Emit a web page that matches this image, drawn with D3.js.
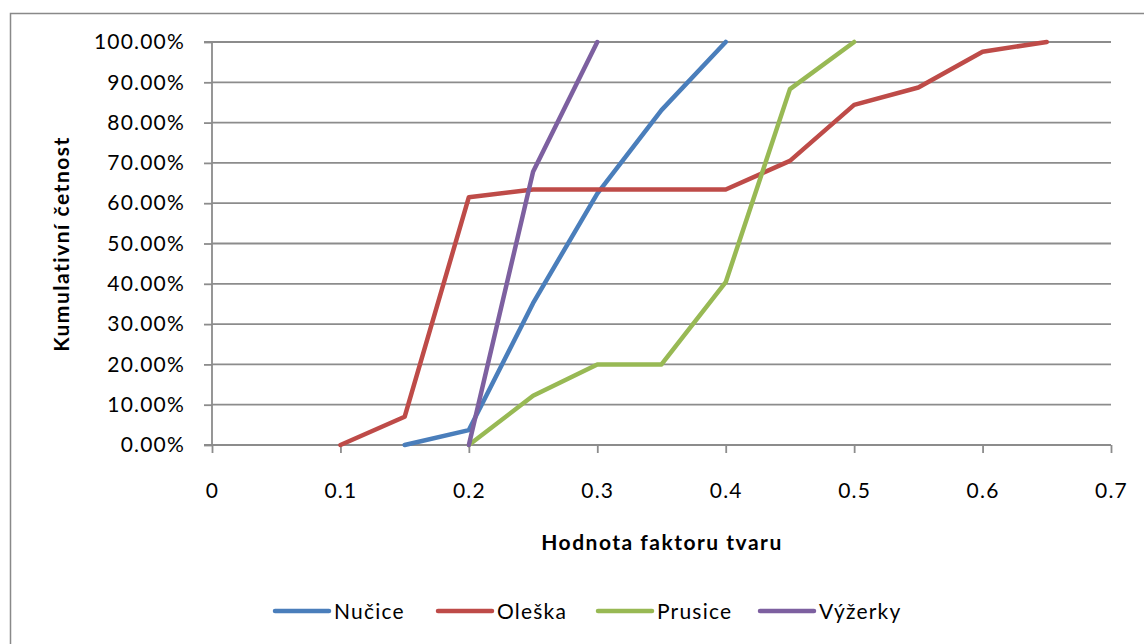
<!DOCTYPE html>
<html><head><meta charset="utf-8">
<script src="https://cdn.jsdelivr.net/npm/d3@7"></script>
<style>body{margin:0;background:#fff;} svg{display:block;font-family:Lato, "Open Sans", sans-serif;}</style>
</head><body>
<svg id="c" width="1144" height="644"></svg>
<script>
const seriesNames = ["Nučice","Oleška","Prusice","Výžerky"];
const seriesColors = ["#4A7EBB","#BE4B48","#98B954","#7D60A0"];
const nucX = [0.15,0.2,0.25,0.3,0.35,0.4];
const nucY = [0,0.037,0.352,0.624,0.831,1.0];
const oleX = [0.1,0.15,0.2,0.25,0.3,0.35,0.4,0.45,0.5,0.55,0.6,0.65];
const oleY = [0,0.07,0.615,0.634,0.634,0.634,0.634,0.705,0.844,0.887,0.976,1.0];
const prsX = [0.2,0.25,0.3,0.35,0.4,0.45,0.5];
const prsY = [0,0.122,0.2,0.2,0.404,0.883,1.0];
const vyzX = [0.2,0.25,0.3];
const vyzY = [0,0.678,1.0];
const xTicks = [0,0.1,0.2,0.3,0.4,0.5,0.6,0.7];
const yTicks = [0,0.1,0.2,0.3,0.4,0.5,0.6,0.7,0.8,0.9,1.0];

const seriesX = [nucX, oleX, prsX, vyzX];
const seriesY = [nucY, oleY, prsY, vyzY];

const svg = d3.select("#c");
const x = d3.scaleLinear().domain([0,0.7]).range([212,1111]);
const y = d3.scaleLinear().domain([0,1]).range([445,42]);
const FS = 21, LS = "1.2px";

svg.append("rect").attr("x",10.5).attr("y",13.5).attr("width",1200).attr("height",700)
  .attr("fill","none").attr("stroke","#898989").attr("stroke-width",1.5);

// gridlines
svg.append("g").selectAll("line").data(yTicks).join("line")
  .attr("x1",x(0)).attr("x2",x(0.7)).attr("y1",d=>y(d)).attr("y2",d=>y(d))
  .attr("stroke","#8c8c8c").attr("stroke-width",1.8);

// y axis
const ya = svg.append("g").attr("transform",`translate(${x(0)},0)`)
  .call(d3.axisLeft(y).tickValues(yTicks).tickSize(8).tickPadding(19).tickFormat(d=>(d*100).toFixed(2)+"%"));
ya.select(".domain").attr("stroke","#8c8c8c").attr("stroke-width",1.8).attr("d",`M-8,${y(1)}H0V${y(0)}H-8`);
ya.selectAll(".tick line").attr("stroke","#8c8c8c").attr("stroke-width",1.8);
ya.selectAll(".tick text").attr("font-size",FS).attr("letter-spacing",LS).attr("fill","#000").attr("font-family","Lato");

// x axis
const xa = svg.append("g").attr("transform",`translate(0,${y(0)})`)
  .call(d3.axisBottom(x).tickValues(xTicks).tickSize(8).tickPadding(30).tickFormat(d=>d===0?"0":String(d)));
xa.select(".domain").remove();
xa.selectAll(".tick line").attr("stroke","#8c8c8c").attr("stroke-width",1.8);
xa.selectAll(".tick text").attr("font-size",FS).attr("letter-spacing",LS).attr("fill","#000").attr("font-family","Lato");

// lines
const line = d3.line().x(d=>x(d[0])).y(d=>y(d[1]));
seriesNames.forEach((n,i)=>{
  const pts = seriesX[i].map((v,j)=>[v, seriesY[i][j]]);
  svg.append("path").attr("d",line(pts)).attr("fill","none")
    .attr("stroke",seriesColors[i]).attr("stroke-width",4.5)
    .attr("stroke-linejoin","round").attr("stroke-linecap","round");
});

// axis titles
svg.append("text").attr("x",662).attr("y",550).attr("text-anchor","middle")
  .attr("font-size",FS).attr("letter-spacing","1.5px").attr("font-weight","bold").text("Hodnota faktoru tvaru");
svg.append("text").attr("transform","translate(69,244) rotate(-90)").attr("text-anchor","middle")
  .attr("font-size",FS).attr("letter-spacing","1.5px").attr("font-weight","bold").text("Kumulativní četnost");

// legend
const legX = [275, 438, 598, 760];
const lg = svg.append("g");
seriesNames.forEach((n,i)=>{
  lg.append("line").attr("x1",legX[i]).attr("x2",legX[i]+54).attr("y1",611).attr("y2",611)
    .attr("stroke",seriesColors[i]).attr("stroke-width",4.5).attr("stroke-linecap","round");
  lg.append("text").attr("x",legX[i]+59).attr("y",619).attr("font-size",FS).attr("letter-spacing",LS).text(n);
});
</script>
</body></html>
